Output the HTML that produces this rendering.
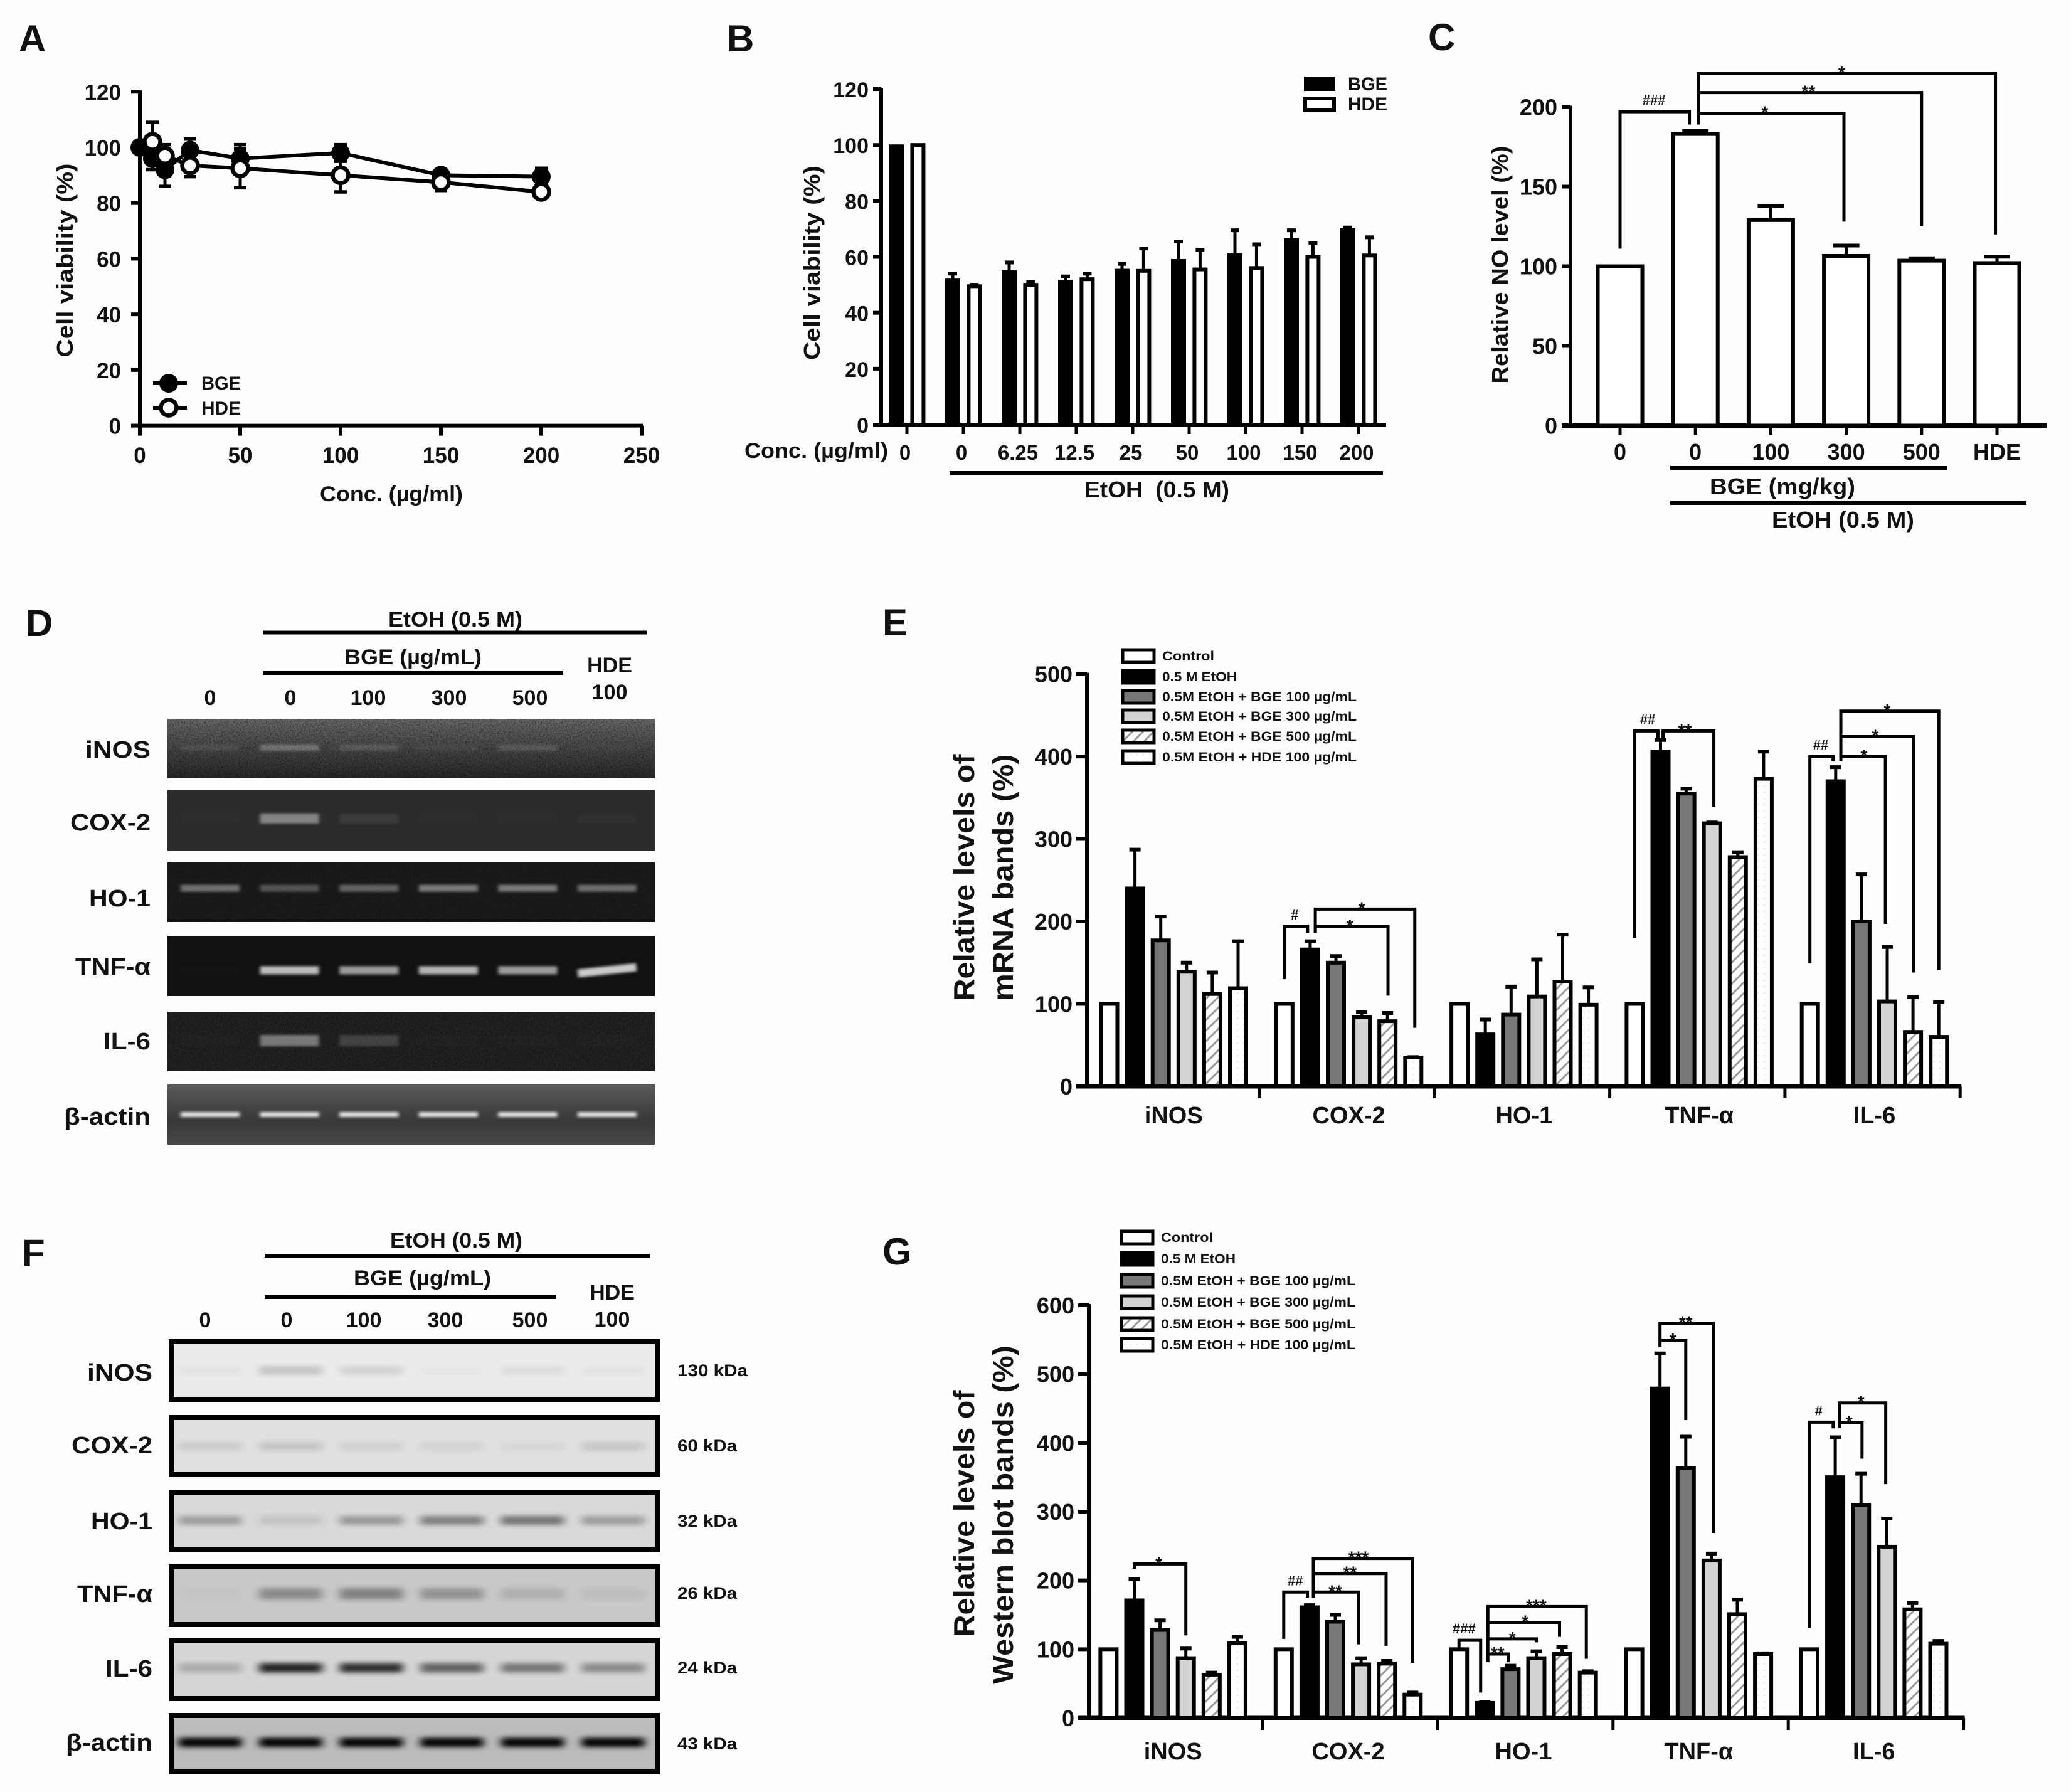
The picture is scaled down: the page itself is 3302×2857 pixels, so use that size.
<!DOCTYPE html>
<html lang="en">
<head>
<meta charset="utf-8">
<title>BGE and HDE multi-panel figure</title>
<style>
html,body{margin:0;padding:0;background:#fefefe;}
svg{display:block;}
text{font-family:"Liberation Sans",sans-serif;font-weight:bold;fill:#111;}
.panel-letter{font-size:60px;}
.t30{font-size:30px;}
.t34{font-size:34px;}
.t36{font-size:36px;}
.t38{font-size:38px;}
.t46{font-size:46px;}
.kda{font-size:27px;}
.leg{font-size:21px;}
</style>
</head>
<body>
<svg id="fig" xmlns="http://www.w3.org/2000/svg" width="3302" height="2857" viewBox="0 0 3302 2857">
<defs>
<pattern id="hatch" width="12" height="12" patternUnits="userSpaceOnUse" patternTransform="rotate(-45)">
<rect width="12" height="12" fill="#fff"/>
<rect width="12" height="3" fill="#999"/>
</pattern>
<pattern id="dots" width="10" height="10" patternUnits="userSpaceOnUse">
<rect width="10" height="10" fill="#fff"/>
<circle cx="3" cy="3" r="1" fill="#ddd"/>
</pattern>
<filter id="blur3" x="-20%" y="-150%" width="140%" height="400%"><feGaussianBlur stdDeviation="3 2"/></filter>
<filter id="blur7" x="-20%" y="-100%" width="140%" height="300%"><feGaussianBlur stdDeviation="7 4"/></filter>
<filter id="speckle" x="0" y="0" width="100%" height="100%">
<feTurbulence type="fractalNoise" baseFrequency="0.45" numOctaves="2" seed="4"/>
<feColorMatrix type="matrix" values="0 0 0 0 0  0 0 0 0 0  0 0 0 0 0  1.6 0 0 0 -0.55"/>
</filter>
<linearGradient id="gel-inos" x1="0" y1="0" x2="0" y2="1"><stop offset="0" stop-color="#6e6e6e"/><stop offset="0.5" stop-color="#4a4a4a"/><stop offset="1" stop-color="#2a2a2a"/></linearGradient>
<linearGradient id="gel-actin" x1="0" y1="0" x2="0" y2="1"><stop offset="0" stop-color="#5a5a5a"/><stop offset="0.6" stop-color="#383838"/><stop offset="1" stop-color="#484848"/></linearGradient>
</defs>

<rect width="3302" height="2857" fill="#fefefe"/>

<!-- Panel A -->
<text class="panel-letter" x="30" y="82">A</text>
<g id="panel-a"></g>
<text class="t36" transform="translate(116,415) rotate(-90)" text-anchor="middle" textLength="309" lengthAdjust="spacingAndGlyphs">Cell viability (%)</text>
<text class="t34" x="624" y="799" text-anchor="middle" textLength="228" lengthAdjust="spacingAndGlyphs">Conc. (µg/ml)</text>
<g>
<line x1="244" y1="611" x2="298" y2="611" stroke="#000" stroke-width="6"/>
<circle cx="269" cy="611" r="15" fill="#000"/>
<text class="t30" x="321" y="621" textLength="63" lengthAdjust="spacingAndGlyphs">BGE</text>
<line x1="244" y1="650" x2="298" y2="650" stroke="#000" stroke-width="6"/>
<circle cx="269" cy="650" r="12.5" fill="#fff" stroke="#000" stroke-width="6.5"/>
<text class="t30" x="321" y="661" textLength="63" lengthAdjust="spacingAndGlyphs">HDE</text>
</g>

<!-- Panel B -->
<text class="panel-letter" x="1159" y="82">B</text>
<g id="panel-b"></g>
<text class="t36" transform="translate(1307,419) rotate(-90)" text-anchor="middle" textLength="310" lengthAdjust="spacingAndGlyphs">Cell viability (%)</text>
<text class="t34" x="1187" y="730" textLength="229" lengthAdjust="spacingAndGlyphs">Conc. (µg/ml)</text>
<line x1="1514" y1="754" x2="2205" y2="754" stroke="#000" stroke-width="6"/>
<text class="t36" x="1729" y="793" textLength="231" lengthAdjust="spacingAndGlyphs" xml:space="preserve">EtOH  (0.5 M)</text>
<g>
<rect x="2079" y="122" width="50" height="23" fill="#000"/>
<text class="t30" x="2149" y="144" textLength="63" lengthAdjust="spacingAndGlyphs">BGE</text>
<rect x="2081" y="157" width="46" height="18" fill="#fff" stroke="#000" stroke-width="6"/>
<text class="t30" x="2149" y="176" textLength="63" lengthAdjust="spacingAndGlyphs">HDE</text>
</g>

<!-- Panel C -->
<text class="panel-letter" x="2277" y="80">C</text>
<g id="panel-c"></g>
<text class="t36" transform="translate(2404,422) rotate(-90)" text-anchor="middle" textLength="379" lengthAdjust="spacingAndGlyphs">Relative NO level (%)</text>
<line x1="2663" y1="746" x2="3104" y2="746" stroke="#000" stroke-width="6"/>
<text class="t36" x="2726" y="788" textLength="232" lengthAdjust="spacingAndGlyphs">BGE (mg/kg)</text>
<line x1="2663" y1="802" x2="3231" y2="802" stroke="#000" stroke-width="6"/>
<text class="t36" x="2825" y="841" textLength="227" lengthAdjust="spacingAndGlyphs">EtOH (0.5 M)</text>

<!-- Panel D -->
<text class="panel-letter" x="41" y="1014">D</text>
<g>
<text class="t34" x="619" y="999" textLength="214" lengthAdjust="spacingAndGlyphs">EtOH (0.5 M)</text>
<line x1="419" y1="1008.5" x2="1031" y2="1008.5" stroke="#000" stroke-width="6"/>
<text class="t34" x="549" y="1059" textLength="219" lengthAdjust="spacingAndGlyphs">BGE (µg/mL)</text>
<line x1="419" y1="1073" x2="898" y2="1073" stroke="#000" stroke-width="6"/>
<text class="t34" x="335" y="1124" text-anchor="middle">0</text>
<text class="t34" x="463" y="1124" text-anchor="middle">0</text>
<text class="t34" x="587" y="1124" text-anchor="middle">100</text>
<text class="t34" x="716" y="1124" text-anchor="middle">300</text>
<text class="t34" x="845" y="1124" text-anchor="middle">500</text>
<text class="t34" x="972" y="1072" text-anchor="middle">HDE</text>
<text class="t34" x="972" y="1115" text-anchor="middle">100</text>
</g>
<g id="gel-rows">
<g class="gel-row" data-band-y="1192" data-band-h="10"><rect x="267" y="1146" width="777" height="95" fill="url(#gel-inos)"/><rect x="267" y="1146" width="777" height="95" filter="url(#speckle)" opacity="0.6"/></g>
<g class="gel-row" data-band-y="1305" data-band-h="16"><rect x="267" y="1260" width="777" height="96" fill="#2b2b2b"/></g>
<g class="gel-row" data-band-y="1416" data-band-h="11"><rect x="267" y="1375" width="777" height="95" fill="#1c1c1c"/><rect x="267" y="1375" width="777" height="95" filter="url(#speckle)" opacity="0.4"/></g>
<g class="gel-row" data-band-y="1547" data-band-h="13"><rect x="267" y="1492" width="777" height="96" fill="#111"/></g>
<g class="gel-row" data-band-y="1659" data-band-h="18"><rect x="267" y="1613" width="777" height="95" fill="#242424"/><rect x="267" y="1613" width="777" height="95" filter="url(#speckle)" opacity="0.6"/></g>
<g class="gel-row" data-band-y="1777" data-band-h="8"><rect x="267" y="1729" width="777" height="96" fill="url(#gel-actin)"/></g>
</g>
<g>
<text class="t38" x="240" y="1208" text-anchor="end" textLength="104" lengthAdjust="spacingAndGlyphs">iNOS</text>
<text class="t38" x="240" y="1324" text-anchor="end" textLength="128" lengthAdjust="spacingAndGlyphs">COX-2</text>
<text class="t38" x="240" y="1445" text-anchor="end" textLength="98" lengthAdjust="spacingAndGlyphs">HO-1</text>
<text class="t38" x="240" y="1554" text-anchor="end" textLength="120" lengthAdjust="spacingAndGlyphs">TNF-α</text>
<text class="t38" x="240" y="1673" text-anchor="end" textLength="75" lengthAdjust="spacingAndGlyphs">IL-6</text>
<text class="t38" x="240" y="1793" text-anchor="end" textLength="138" lengthAdjust="spacingAndGlyphs">β-actin</text>
</g>

<!-- Panel E -->
<text class="panel-letter" x="1407" y="1013">E</text>
<g id="panel-e"></g>
<text class="t46" transform="translate(1553,1399) rotate(-90)" text-anchor="middle" textLength="393" lengthAdjust="spacingAndGlyphs">Relative levels of</text>
<text class="t46" transform="translate(1615,1399) rotate(-90)" text-anchor="middle" textLength="393" lengthAdjust="spacingAndGlyphs">mRNA bands (%)</text>
<g>
<rect x="1790" y="1036" width="50" height="20" fill="#fff" stroke="#000" stroke-width="5"/>
<text class="leg" x="1853" y="1053" textLength="83" lengthAdjust="spacingAndGlyphs">Control</text>
<rect x="1790" y="1069" width="50" height="20" fill="#000" stroke="#000" stroke-width="5"/>
<text class="leg" x="1853" y="1086" textLength="119" lengthAdjust="spacingAndGlyphs">0.5 M EtOH</text>
<rect x="1790" y="1101" width="50" height="20" fill="#777" stroke="#000" stroke-width="5"/>
<text class="leg" x="1853" y="1118" textLength="310" lengthAdjust="spacingAndGlyphs">0.5M EtOH + BGE 100 µg/mL</text>
<rect x="1790" y="1132" width="50" height="20" fill="#d2d2d2" stroke="#000" stroke-width="5"/>
<text class="leg" x="1853" y="1149" textLength="310" lengthAdjust="spacingAndGlyphs">0.5M EtOH + BGE 300 µg/mL</text>
<rect x="1790" y="1164" width="50" height="20" fill="url(#hatch)" stroke="#000" stroke-width="5"/>
<text class="leg" x="1853" y="1181" textLength="310" lengthAdjust="spacingAndGlyphs">0.5M EtOH + BGE 500 µg/mL</text>
<rect x="1790" y="1197" width="50" height="20" fill="url(#dots)" stroke="#000" stroke-width="5"/>
<text class="leg" x="1853" y="1214" textLength="310" lengthAdjust="spacingAndGlyphs">0.5M EtOH + HDE 100 µg/mL</text>
</g>

<!-- Panel F -->
<text class="panel-letter" x="35" y="2018">F</text>
<g>
<text class="t34" x="622" y="1989" textLength="211" lengthAdjust="spacingAndGlyphs">EtOH (0.5 M)</text>
<line x1="422" y1="2002" x2="1036" y2="2002" stroke="#000" stroke-width="6"/>
<text class="t34" x="564" y="2049" textLength="219" lengthAdjust="spacingAndGlyphs">BGE (µg/mL)</text>
<line x1="422" y1="2068" x2="887" y2="2068" stroke="#000" stroke-width="6"/>
<text class="t34" x="327" y="2116" text-anchor="middle">0</text>
<text class="t34" x="457" y="2116" text-anchor="middle">0</text>
<text class="t34" x="580" y="2116" text-anchor="middle">100</text>
<text class="t34" x="710" y="2116" text-anchor="middle">300</text>
<text class="t34" x="845" y="2116" text-anchor="middle">500</text>
<text class="t34" x="976" y="2072" text-anchor="middle">HDE</text>
<text class="t34" x="976" y="2115" text-anchor="middle">100</text>
</g>
<g id="blot-rows">
<g class="blot-row" data-band-y="2185" data-band-h="14"><rect x="273" y="2139" width="775" height="92" fill="#ebebeb" stroke="#000" stroke-width="8"/></g>
<g class="blot-row" data-band-y="2306" data-band-h="14"><rect x="273" y="2260" width="775" height="91" fill="#e0e0e0" stroke="#000" stroke-width="8"/></g>
<g class="blot-row" data-band-y="2424" data-band-h="14"><rect x="273" y="2380" width="775" height="91" fill="#d9d9d9" stroke="#000" stroke-width="8"/></g>
<g class="blot-row" data-band-y="2541" data-band-h="18"><rect x="273" y="2498" width="775" height="92" fill="#c8c8c8" stroke="#000" stroke-width="8"/></g>
<g class="blot-row" data-band-y="2659" data-band-h="15"><rect x="273" y="2615" width="775" height="93" fill="#d6d6d6" stroke="#000" stroke-width="8"/></g>
<g class="blot-row" data-band-y="2778" data-band-h="15"><rect x="273" y="2735" width="775" height="90" fill="#bbb" stroke="#000" stroke-width="8"/></g>
</g>
<g>
<text class="t38" x="243" y="2201" text-anchor="end" textLength="104" lengthAdjust="spacingAndGlyphs">iNOS</text>
<text class="t38" x="243" y="2317" text-anchor="end" textLength="129" lengthAdjust="spacingAndGlyphs">COX-2</text>
<text class="t38" x="243" y="2438" text-anchor="end" textLength="98" lengthAdjust="spacingAndGlyphs">HO-1</text>
<text class="t38" x="243" y="2554" text-anchor="end" textLength="120" lengthAdjust="spacingAndGlyphs">TNF-α</text>
<text class="t38" x="243" y="2673" text-anchor="end" textLength="75" lengthAdjust="spacingAndGlyphs">IL-6</text>
<text class="t38" x="243" y="2791" text-anchor="end" textLength="138" lengthAdjust="spacingAndGlyphs">β-actin</text>
</g>
<g>
<text class="kda" x="1080" y="2194" textLength="112" lengthAdjust="spacingAndGlyphs">130 kDa</text>
<text class="kda" x="1080" y="2314" textLength="95" lengthAdjust="spacingAndGlyphs">60 kDa</text>
<text class="kda" x="1080" y="2434" textLength="95" lengthAdjust="spacingAndGlyphs">32 kDa</text>
<text class="kda" x="1080" y="2549" textLength="95" lengthAdjust="spacingAndGlyphs">26 kDa</text>
<text class="kda" x="1080" y="2668" textLength="95" lengthAdjust="spacingAndGlyphs">24 kDa</text>
<text class="kda" x="1080" y="2789" textLength="95" lengthAdjust="spacingAndGlyphs">43 kDa</text>
</g>

<!-- Panel G -->
<text class="panel-letter" x="1407" y="2016">G</text>
<g id="panel-g"></g>
<text class="t46" transform="translate(1553,2413) rotate(-90)" text-anchor="middle" textLength="393" lengthAdjust="spacingAndGlyphs">Relative levels of</text>
<text class="t46" transform="translate(1615,2415) rotate(-90)" text-anchor="middle" textLength="540" lengthAdjust="spacingAndGlyphs">Western blot bands (%)</text>
<g>
<rect x="1788" y="1963" width="50" height="20" fill="#fff" stroke="#000" stroke-width="5"/>
<text class="leg" x="1851" y="1980" textLength="83" lengthAdjust="spacingAndGlyphs">Control</text>
<rect x="1788" y="1997" width="50" height="20" fill="#000" stroke="#000" stroke-width="5"/>
<text class="leg" x="1851" y="2014" textLength="119" lengthAdjust="spacingAndGlyphs">0.5 M EtOH</text>
<rect x="1788" y="2032" width="50" height="20" fill="#777" stroke="#000" stroke-width="5"/>
<text class="leg" x="1851" y="2049" textLength="310" lengthAdjust="spacingAndGlyphs">0.5M EtOH + BGE 100 µg/mL</text>
<rect x="1788" y="2066" width="50" height="20" fill="#d2d2d2" stroke="#000" stroke-width="5"/>
<text class="leg" x="1851" y="2083" textLength="310" lengthAdjust="spacingAndGlyphs">0.5M EtOH + BGE 300 µg/mL</text>
<rect x="1788" y="2101" width="50" height="20" fill="url(#hatch)" stroke="#000" stroke-width="5"/>
<text class="leg" x="1851" y="2118" textLength="310" lengthAdjust="spacingAndGlyphs">0.5M EtOH + BGE 500 µg/mL</text>
<rect x="1788" y="2134" width="50" height="20" fill="url(#dots)" stroke="#000" stroke-width="5"/>
<text class="leg" x="1851" y="2151" textLength="310" lengthAdjust="spacingAndGlyphs">0.5M EtOH + HDE 100 µg/mL</text>
</g>
</svg>

<script>
// ---------- Panel A data ----------
const aConc = [0, 6.25, 12.5, 25, 50, 100, 150, 200];
const aBge = [100, 96, 92, 99, 96, 98, 90, 89.5];
const aBgeErr = [0, 4, 6, 4, 5, 3, 2, 3];
const aHde = [100, 102, 97, 93.5, 92.5, 90, 87.5, 84];
const aHdeErr = [0, 7, 4, 4, 7, 6, 3, 1];
const aYTicks = [0, 20, 40, 60, 80, 100, 120];
const aXTicks = [0, 50, 100, 150, 200, 250];

// ---------- Panel B data ----------
const bCategories = ['0', '0', '6.25', '12.5', '25', '50', '100', '150', '200'];
const bBge = [100, 52, 55, 51.5, 55.5, 59, 61, 66.5, 70];
const bBgeErr = [0, 2, 3, 1.5, 2, 6.5, 8.5, 3, 0.5];
const bHde = [100, 49.5, 50, 52, 55, 55.5, 56, 60, 60.5];
const bHdeErr = [0, 0.5, 1, 2, 8, 7, 8.5, 5, 6.5];
const bYTicks = [0, 20, 40, 60, 80, 100, 120];

// ---------- Panel C data ----------
const cCategories = ['0', '0', '100', '300', '500', 'HDE'];
const cValues = [100, 183, 129, 106.5, 103.5, 102];
const cErrors = [0, 2, 9, 6.5, 1.5, 4];
const cYTicks = [0, 50, 100, 150, 200];
const cBracketFrom = [0, 1.04, 1.04, 1.04];
const cBracketTo = [0.92, 2.97, 4, 4.98];
const cBracketTop = [197, 196, 209, 221];
const cBracketDropFrom = [111, 189, 196, 209];
const cBracketDropTo = [189, 128, 125, 120];
const cBracketLabels = ['###', '*', '**', '*'];
const cBracketLabelSlots = [0.45, 1.92, 2.5, 2.94];

// ---------- Shared E / G categories ----------
const geneCategories = ['iNOS', 'COX-2', 'HO-1', 'TNF-α', 'IL-6'];
const treatmentNames = ['control', 'etoh', 'bge100', 'bge300', 'bge500', 'hde100'];

// ---------- Panel E data ----------
const eControl = [100, 100, 100, 100, 100];
const eEtoh = [240, 166, 63, 406, 370];
const eBge100 = [177, 150, 87, 355, 200];
const eBge300 = [139, 84, 109, 319, 103];
const eBge500 = [112, 79, 127, 278, 66];
const eHde100 = [119, 35, 99, 373, 60];
const eControlErr = [0, 0, 0, 0, 0];
const eEtohErr = [47, 10, 18, 14, 17];
const eBge100Err = [29, 8, 34, 6, 57];
const eBge300Err = [11, 6, 45, 1, 66];
const eBge500Err = [26, 10, 57, 6, 42];
const eHde100Err = [57, 0.5, 21, 33, 42];
const eYTicks = [0, 100, 200, 300, 400, 500];
const eBracketGroups = [1, 1, 1, 3, 3, 4, 4, 4, 4];
const eBracketFrom = [0, 1.2, 1.2, 0, 1.1, 0, 1.2, 1.2, 1.2];
const eBracketTo = [0.9, 4.02, 5.06, 0.9, 3.07, 0.9, 2.93, 4.02, 5];
const eBracketTop = [194, 194, 215, 431, 431, 400, 400, 424, 455];
const eBracketDropFrom = [130, 186, 186, 180, 422, 149, 394, 400, 424];
const eBracketDropTo = [186, 110, 71, 422, 339, 394, 197, 138, 141];
const eBracketLabels = ['#', '*', '*', '##', '**', '##', '*', '*', '*'];
const eBracketLabelSlots = [0.4, 2.54, 3, 0.5, 1.95, 0.42, 2.1, 2.54, 3];

// ---------- Panel G data ----------
const gControl = [100, 100, 100, 100, 100];
const gEtoh = [171, 161, 22, 479, 350];
const gBge100 = [128, 140, 71, 363, 310];
const gBge300 = [87, 78, 87, 229, 249];
const gBge500 = [63, 79, 93, 151, 158];
const gHde100 = [109, 34, 66, 93, 108];
const gControlErr = [0, 0, 0, 0, 0];
const gEtohErr = [31, 3, 1, 51, 58];
const gBge100Err = [14, 10, 5, 46, 45];
const gBge300Err = [14, 9, 10, 10, 41];
const gBge500Err = [3, 4, 10, 21, 9];
const gHde100Err = [9, 3, 2, 1, 4];
const gYTicks = [0, 100, 200, 300, 400, 500, 600];
const gBracketGroups = [0, 1, 1, 1, 1, 2, 2, 2, 2, 2, 3, 3, 4, 4, 4];
const gBracketFrom = [1, 0, 1.15, 1.15, 1.15, 0, 1.12, 1.12, 1.12, 1.12, 1, 1, 0, 1.17, 1.17];
const gBracketTo = [3, 0.92, 2.9, 3.97, 5, 0.84, 1.93, 3, 3.9, 4.94, 2, 3.07, 0.92, 2.04, 2.96];
const gBracketTop = [224, 183, 183, 210, 232, 113, 93, 115, 139, 162, 549, 574, 430, 429, 458];
const gBracketDropFrom = [217, 115, 175, 183, 210, 102, 81, 93, 115, 139, 539, 549, 131, 422, 429];
const gBracketDropTo = [120, 175, 107, 105, 80, 37, 81, 110, 118, 86, 433, 269, 421, 377, 340];
const gBracketLabels = ['*', '##', '**', '**', '***', '###', '**', '*', '*', '***', '*', '**', '#', '*', '*'];
const gBracketLabelSlots = [1.95, 0.45, 2, 2.57, 2.9, 0.2, 1.5, 2.07, 2.57, 3, 1.5, 2, 0.36, 1.54, 2];

// ---------- Gel and blot band intensities, one row per gene, one value per lane ----------
const gelInos = [0.07, 0.26, 0.13, 0.04, 0.12, 0.02];
const gelCox = [0.01, 0.42, 0.07, 0.01, 0.01, 0.02];
const gelHo = [0.38, 0.26, 0.32, 0.42, 0.42, 0.36];
const gelTnf = [0.01, 0.72, 0.58, 0.68, 0.58, 0.78];
const gelIl = [0.01, 0.4, 0.16, 0.01, 0.01, 0.01];
const gelActin = [0.85, 0.85, 0.85, 0.85, 0.85, 0.85];
const blotInos = [0.03, 0.16, 0.1, 0.02, 0.06, 0.03];
const blotCox = [0.09, 0.12, 0.07, 0.06, 0.04, 0.11];
const blotHo = [0.28, 0.1, 0.3, 0.42, 0.48, 0.28];
const blotTnf = [0.01, 0.3, 0.35, 0.26, 0.12, 0.05];
const blotIl = [0.2, 0.85, 0.8, 0.55, 0.45, 0.35];
const blotActin = [1, 1, 1, 1, 1, 1];

const NS = 'http://www.w3.org/2000/svg';

function mk(tag, parent, attrs) {
  const node = document.createElementNS(NS, tag);
  for (const k in attrs) node.setAttribute(k, attrs[k]);
  parent.appendChild(node);
  return node;
}
function rule(parent, x1, y1, x2, y2, w, name) {
  const n = mk('line', parent, {x1: x1, y1: y1, x2: x2, y2: y2, stroke: '#000', 'stroke-width': w});
  
  
  return n;
}
function label(parent, x, y, str, size, anchor, name) {
  const n = mk('text', parent, {x: x, y: y, 'font-size': size, 'text-anchor': anchor});
  n.textContent = str;
  
  
  return n;
}
function errorBar(parent, x, yBase, yTop, cap, w) {
  const g = mk('g', parent, {});
  
  
  mk('line', g, {x1: x, y1: yBase, x2: x, y2: yTop, stroke: '#000', 'stroke-width': w});
  mk('line', g, {x1: x - cap / 2, y1: yTop, x2: x + cap / 2, y2: yTop, stroke: '#000', 'stroke-width': w + 1});
}
function bar(parent, cx, width, yTop, yBase, fill, sw, name) {
  const r = mk('rect', parent, {
    x: cx - width / 2 + sw / 2, y: yTop, width: width - sw,
    height: Math.max(0, yBase - yTop), fill: fill, stroke: '#000', 'stroke-width': sw
  });
  
  
  return r;
}
function bracket(parent, xa, xb, yTop, yA, yB, text, labelX) {
  const g = mk('g', parent, {});
  
  
  mk('path', g, {d: 'M' + xa + ' ' + yA + 'V' + yTop + 'H' + xb + 'V' + yB, fill: 'none', stroke: '#000', 'stroke-width': 5});
  const isStar = text.charAt(0) === '*';
  label(g, labelX, isStar ? yTop + 8 : yTop - 11, text, isStar ? 28 : 22, 'middle', 'significance-label');
}

// ---------- Panel A ----------
(function () {
  const p = document.getElementById('panel-a');
  const x = function (v) { return 223 + v * 3.2; };
  const y = function (v) { return 678.6 - v * 4.436; };
  rule(p, x(0), y(120) - 2, x(0), y(0) + 3, 6, 'y-axis');
  rule(p, x(0) - 2, y(0), x(250) + 2, y(0), 6, 'x-axis');
  aYTicks.forEach(function (t) {
    rule(p, x(0) - 14, y(t), x(0), y(t), 6, 'y-tick');
    label(p, 193, y(t) + 13, String(t), 35, 'end', 'y-tick-label');
  });
  aXTicks.forEach(function (t) {
    rule(p, x(t), y(0), x(t), y(0) + 16, 6, 'x-tick');
    label(p, x(t), 738, String(t), 35, 'middle', 'x-tick-label');
  });
  function series(values, errors, filled, name, startAt) {
    const g = mk('g', p, {});
    
    
    const pts = values.map(function (v, i) { return x(aConc[i]) + ',' + y(v); }).join(' ');
    mk('polyline', g, {points: pts, fill: 'none', stroke: '#000', 'stroke-width': 6});
    values.forEach(function (v, i) {
      if (errors[i] > 0) {
        rule(g, x(aConc[i]), y(v - errors[i]), x(aConc[i]), y(v + errors[i]), 5, 'error-bar-stem');
        rule(g, x(aConc[i]) - 10, y(v + errors[i]), x(aConc[i]) + 10, y(v + errors[i]), 5.5, 'error-bar-cap');
        rule(g, x(aConc[i]) - 10, y(v - errors[i]), x(aConc[i]) + 10, y(v - errors[i]), 5.5, 'error-bar-cap');
      }
    });
    values.forEach(function (v, i) {
      if (i < startAt) return;
      const c = mk('circle', g, filled
        ? {cx: x(aConc[i]), cy: y(v), r: 15, fill: '#000'}
        : {cx: x(aConc[i]), cy: y(v), r: 12.5, fill: '#fff', stroke: '#000', 'stroke-width': 6.5});
      
      
    });
  }
  series(aBge, aBgeErr, true, 'bge-series', 0);
  series(aHde, aHdeErr, false, 'hde-series', 1);
})();

// ---------- Panel B ----------
(function () {
  const p = document.getElementById('panel-b');
  const y = function (v) { return 677 - v * 4.458; };
  const bx = function (i) { return 1429 + i * 90; };
  rule(p, 1405, y(120) - 2, 1405, y(0) + 3, 6, 'y-axis');
  rule(p, 1403, y(0), 2210, y(0), 6, 'x-axis');
  bYTicks.forEach(function (t) {
    rule(p, 1392, y(t), 1405, y(t), 6, 'y-tick');
    label(p, 1385, y(t) + 13, String(t), 34, 'end', 'y-tick-label');
  });
  bCategories.forEach(function (c, i) {
    const tx = bx(i) + 17;
    rule(p, tx, y(0), tx, y(0) + 15, 5, 'x-tick');
    label(p, tx - 3, 733, c, 33, 'middle', 'x-tick-label');
    bar(p, bx(i), 24, y(bBge[i]), y(0), '#000', 2, 'bar-bge');
    if (bBgeErr[i] > 0) errorBar(p, bx(i), y(bBge[i]), y(bBge[i] + bBgeErr[i]), 14, 5);
    bar(p, bx(i) + 34.4, 24, y(bHde[i]), y(0), '#fff', 6, 'bar-hde');
    if (bHdeErr[i] > 0) errorBar(p, bx(i) + 34.4, y(bHde[i]), y(bHde[i] + bHdeErr[i]), 14, 5);
  });
})();

// ---------- Panel C ----------
(function () {
  const p = document.getElementById('panel-c');
  const y = function (v) { return 678.5 - v * 2.54; };
  const bx = function (s) { return 2583 + s * 120.2; };
  rule(p, 2504, y(200) - 2, 2504, y(0), 6, 'y-axis');
  rule(p, 2490, y(0), 3263, y(0), 7, 'x-axis');
  cYTicks.forEach(function (t) {
    rule(p, 2490, y(t), 2504, y(t), 6, 'y-tick');
    label(p, 2483, y(t) + 13, String(t), 36, 'end', 'y-tick-label');
  });
  cCategories.forEach(function (c, i) {
    rule(p, bx(i), y(0), bx(i), y(0) + 15, 5, 'x-tick');
    label(p, bx(i), 733, c, 36, 'middle', 'x-tick-label');
    bar(p, bx(i), 77, y(cValues[i]), y(0), '#fff', 6, 'bar');
    if (cErrors[i] > 0) errorBar(p, bx(i), y(cValues[i]), y(cValues[i] + cErrors[i]), 42, 5);
  });
  cBracketLabels.forEach(function (t, i) {
    bracket(p, bx(cBracketFrom[i]), bx(cBracketTo[i]), y(cBracketTop[i]), y(cBracketDropFrom[i]), y(cBracketDropTo[i]), t, bx(cBracketLabelSlots[i]));
  });
})();

// ---------- Panels E and G ----------
const barFills = ['#fff', '#000', '#777', '#d2d2d2', 'url(#hatch)', 'url(#dots)'];
function groupedChart(p, y, xAxis, firstBar, groupStep, firstTick, yTicks, yTop, xLabelY, seriesList, errList, br) {
  const slot = function (g, s) { return firstBar + g * groupStep + s * 41.1; };
  rule(p, xAxis, y(yTop) - 2, xAxis, y(0), 6, 'y-axis');
  rule(p, xAxis - 17, y(0), firstTick + 4 * groupStep + 2, y(0), 7, 'x-axis');
  yTicks.forEach(function (t) {
    rule(p, xAxis - 17, y(t), xAxis, y(t), 6, 'y-tick');
    label(p, xAxis - 23, y(t) + 13, String(t), 36, 'end', 'y-tick-label');
  });
  geneCategories.forEach(function (c, g) {
    rule(p, firstTick + g * groupStep, y(0), firstTick + g * groupStep, y(0) + 19, 5, 'x-tick');
    label(p, slot(g, 2.5), xLabelY, c, 38, 'middle', 'x-tick-label');
    seriesList.forEach(function (vals, s) {
      const cx = slot(g, s);
      bar(p, cx, 32, y(vals[g]), y(0), barFills[s], 6, 'bar-' + treatmentNames[s]);
      if (errList[s][g] > 0) errorBar(p, cx, y(vals[g]), y(vals[g] + errList[s][g]), 18, 5);
    });
  });
  br.labels.forEach(function (t, i) {
    const g = br.groups[i];
    bracket(p, slot(g, br.from[i]), slot(g, br.to[i]), y(br.top[i]), y(br.dropFrom[i]), y(br.dropTo[i]), t, slot(g, br.labelSlots[i]));
  });
}
groupedChart(
  document.getElementById('panel-e'),
  function (v) { return 1732 - v * 1.3148; },
  1733, 1768.5, 279.3, 2008, eYTicks, 500, 1791,
  [eControl, eEtoh, eBge100, eBge300, eBge500, eHde100],
  [eControlErr, eEtohErr, eBge100Err, eBge300Err, eBge500Err, eHde100Err],
  {groups: eBracketGroups, from: eBracketFrom, to: eBracketTo, top: eBracketTop, dropFrom: eBracketDropFrom, dropTo: eBracketDropTo, labels: eBracketLabels, labelSlots: eBracketLabelSlots}
);
groupedChart(
  document.getElementById('panel-g'),
  function (v) { return 2739 - v * 1.0967; },
  1736, 1767.4, 279.4, 2013, gYTicks, 600, 2805,
  [gControl, gEtoh, gBge100, gBge300, gBge500, gHde100],
  [gControlErr, gEtohErr, gBge100Err, gBge300Err, gBge500Err, gHde100Err],
  {groups: gBracketGroups, from: gBracketFrom, to: gBracketTo, top: gBracketTop, dropFrom: gBracketDropFrom, dropTo: gBracketDropTo, labels: gBracketLabels, labelSlots: gBracketLabelSlots}
);

// ---------- Gel and blot bands ----------
const gelTable = [gelInos, gelCox, gelHo, gelTnf, gelIl, gelActin];
const blotTable = [blotInos, blotCox, blotHo, blotTnf, blotIl, blotActin];
document.querySelectorAll('.gel-row').forEach(function (row, r) {
  const by = parseFloat(row.dataset.bandY);
  const bh = parseFloat(row.dataset.bandH);
  gelTable[r].forEach(function (v, i) {
    const bx = 335 - 47 + i * 126.6;
    const b = mk('rect', row, {x: bx, y: by - bh / 2, width: 94, height: bh, fill: '#fff', opacity: v, filter: 'url(#blur3)'});
    if (r === 3 && i === 5) {
      b.setAttribute('transform', 'rotate(-6 ' + (bx + 47) + ' ' + by + ')');
    }
    
    
  });
});
document.querySelectorAll('.blot-row').forEach(function (row, r) {
  const by = parseFloat(row.dataset.bandY);
  const bh = parseFloat(row.dataset.bandH);
  blotTable[r].forEach(function (v, i) {
    const b = mk('rect', row, {x: 335 - 50 + i * 128.5, y: by - bh / 2, width: 100, height: bh, fill: '#000', opacity: v, filter: 'url(#blur7)'});
    
    
  });
});
</script>
</body>
</html>
